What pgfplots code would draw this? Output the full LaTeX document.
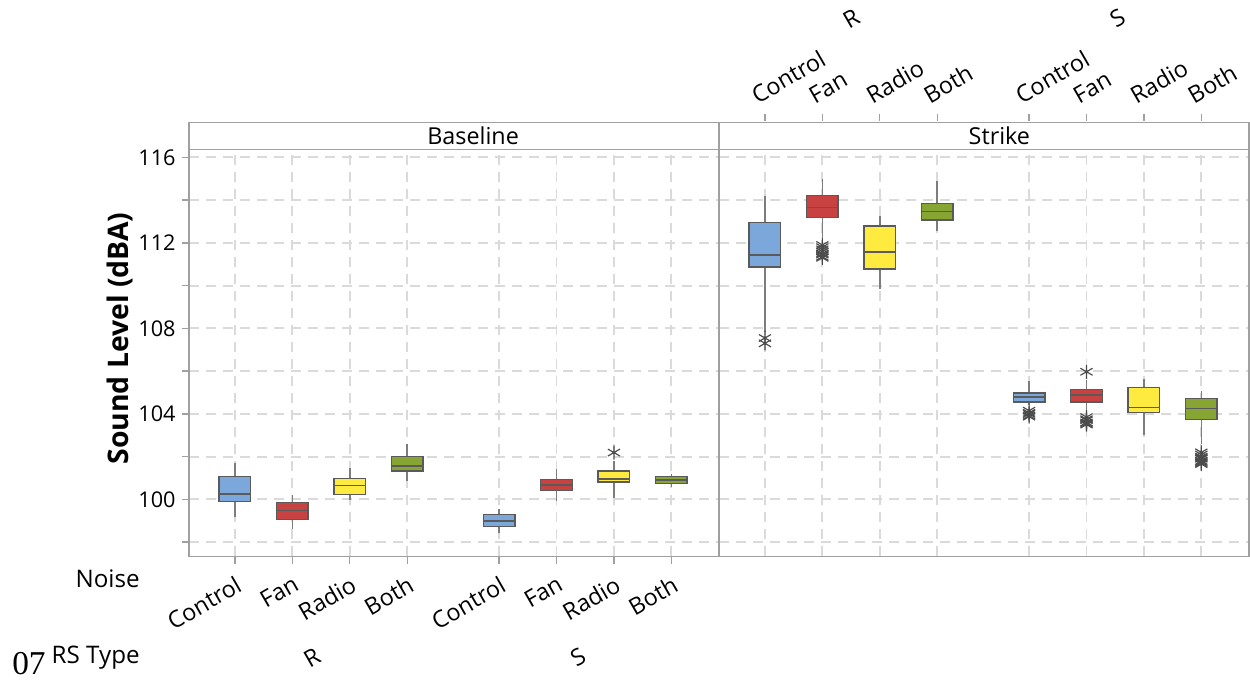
\documentclass[border=0pt]{standalone}
\usepackage{pgfplots}
\pgfplotsset{compat=1.18}
\usepackage{fontspec}
\setmainfont{Open Sans}
\newfontfamily\serifnum{Liberation Serif}
\definecolor{cblue}{RGB}{123,167,219}
\definecolor{cred}{RGB}{201,66,66}
\definecolor{cyellow}{RGB}{255,234,64}
\definecolor{cgreen}{RGB}{135,165,50}
\definecolor{edgec}{RGB}{90,90,90}
\definecolor{whiskc}{RGB}{125,125,125}
\definecolor{markc}{RGB}{75,75,75}
\definecolor{gridc}{RGB}{218,218,218}
\definecolor{framec}{RGB}{160,160,160}
\newcommand{\tf}{\fontsize{14}{16}\selectfont}
\newcommand{\yf}{\fontsize{13}{15}\selectfont}
\pgfplotsset{
  panel/.style={
    scale only axis, width=318pt, height=244.2pt,
    xmin=0.2, xmax=9.43, ymin=97.33, ymax=116.37,
    axis line style={draw=framec, line width=0.8pt},
    ytick={98,100,...,116},
    xtick={1,2,3,4,5.6,6.6,7.6,8.6},
    xticklabels={Control,Fan,Radio,Both,Control,Fan,Radio,Both},
    grid=major,
    major grid style={draw=gridc, line width=1.1pt, dash pattern=on 6pt off 4.2pt},
    tick align=outside,
    major tick length=4.5pt,
    tick style={draw=framec, line width=0.8pt},
    ticklabel style={text=black},
    xticklabel style={font=\tf},
    yticklabel style={font=\yf},
    /pgf/number format/assume math mode=true,
    clip=false,
  },
  wh/.style={draw=whiskc, line width=0.9pt, no marks},
  bx/.style={draw=edgec, line width=0.8pt, no marks},
  md/.style={draw=edgec, line width=1pt, no marks},
  ol/.style={only marks, mark=asterisk, mark size=4.2pt,
    mark options={draw=markc, line width=0.7pt}},
}
\begin{document}
\begin{tikzpicture}
\path (0,0) rectangle (750pt,408pt);
% ---------------- Baseline ----------------
\begin{axis}[panel, at={(113.4pt,74.4pt)}, anchor=south west,
  xtick pos=left, ytick pos=left,
  yticklabels={,100,,104,,108,,112,,116},
  xticklabel style={rotate=30, anchor=north east, yshift=-2pt}]
% R Control
\addplot[wh] coordinates {(1,99.17) (1,101.72)};
\addplot[bx, fill=cblue] coordinates {(0.725,99.89) (1.275,99.89) (1.275,101.06) (0.725,101.06)} --cycle;
\addplot[md] coordinates {(0.725,100.25) (1.275,100.25)};
% R Fan
\addplot[wh] coordinates {(2,98.63) (2,100.22)};
\addplot[bx, fill=cred] coordinates {(1.725,99.06) (2.275,99.06) (2.275,99.84) (1.725,99.84)} --cycle;
\addplot[md] coordinates {(1.725,99.48) (2.275,99.48)};
% R Radio
\addplot[wh] coordinates {(3,99.98) (3,101.46)};
\addplot[bx, fill=cyellow] coordinates {(2.725,100.24) (3.275,100.24) (3.275,100.98) (2.725,100.98)} --cycle;
\addplot[md] coordinates {(2.725,100.65) (3.275,100.65)};
% R Both
\addplot[wh] coordinates {(4,100.85) (4,102.57)};
\addplot[bx, fill=cgreen] coordinates {(3.725,101.32) (4.275,101.32) (4.275,102.02) (3.725,102.02)} --cycle;
\addplot[md] coordinates {(3.725,101.56) (4.275,101.56)};
% S Control
\addplot[wh] coordinates {(5.6,98.41) (5.6,99.53)};
\addplot[bx, fill=cblue] coordinates {(5.325,98.74) (5.875,98.74) (5.875,99.28) (5.325,99.28)} --cycle;
\addplot[md] coordinates {(5.325,98.99) (5.875,98.99)};
% S Fan
\addplot[wh] coordinates {(6.6,99.91) (6.6,101.40)};
\addplot[bx, fill=cred] coordinates {(6.325,100.41) (6.875,100.41) (6.875,100.93) (6.325,100.93)} --cycle;
\addplot[md] coordinates {(6.325,100.66) (6.875,100.66)};
% S Radio
\addplot[wh] coordinates {(7.6,100.06) (7.6,101.8)};
\addplot[bx, fill=cyellow] coordinates {(7.325,100.82) (7.875,100.82) (7.875,101.32) (7.325,101.32)} --cycle;
\addplot[md] coordinates {(7.325,100.96) (7.875,100.96)};
\addplot[ol] coordinates {(7.6,102.19)};
% S Both
\addplot[wh] coordinates {(8.6,100.58) (8.6,101.21)};
\addplot[bx, fill=cgreen] coordinates {(8.325,100.74) (8.875,100.74) (8.875,101.06) (8.325,101.06)} --cycle;
\addplot[md] coordinates {(8.325,100.90) (8.875,100.90)};
\draw[framec, line width=0.8pt, fill=white] (rel axis cs:0,1) rectangle (rel axis cs:1,1.0663);
\node[font=\tf] at (rel axis cs:0.536,1.033) {Baseline};
\node[font=\fontsize{17}{19}\selectfont\bfseries, rotate=90] at (rel axis cs:-0.130,0.5356) {Sound Level (dBA)};
\node[font=\fontsize{14.5}{16}\selectfont, anchor=east, inner sep=0pt] at (rel axis cs:-0.0925,-0.054) {Noise};
\node[font=\fontsize{14.5}{16}\selectfont, anchor=east, inner sep=0pt] at (rel axis cs:-0.0925,-0.248) {RS Type};
\node[font=\tf, rotate=30] at (rel axis cs:0.232,-0.248) {R};
\node[font=\tf, rotate=30] at (rel axis cs:0.734,-0.248) {S};
\node[font=\fontsize{20}{22}\selectfont\serifnum, anchor=base west, inner sep=0pt] at (rel axis cs:-0.334,-0.29) {07};
\end{axis}
% ---------------- Strike ----------------
\begin{axis}[panel, at={(431.4pt,74.4pt)}, anchor=south west,
  xtick pos=right, xticklabel pos=right, ytick pos=left,
  ytick style={draw=none},
  yticklabels={,,,,,,,,,},
  xtick style={yshift=16.8pt},
  xticklabel style={rotate=30, anchor=south west, yshift=18pt, xshift=4pt}]
% R Control
\addplot[wh] coordinates {(1,107.85) (1,114.18)};
\addplot[bx, fill=cblue] coordinates {(0.725,110.87) (1.275,110.87) (1.275,112.96) (0.725,112.96)} --cycle;
\addplot[md] coordinates {(0.725,111.44) (1.275,111.44)};
\addplot[ol] coordinates {(1,107.55) (1,107.3)};
% R Fan
\addplot[wh] coordinates {(2,112.1) (2,114.98)};
\addplot[bx, fill=cred] coordinates {(1.725,113.19) (2.275,113.19) (2.275,114.21) (1.725,114.21)} --cycle;
\addplot[md] coordinates {(1.725,113.65) (2.275,113.65)};
\addplot[ol] coordinates {(2,111.9) (2,111.8) (2,111.7) (2,111.6) (2,111.5) (2,111.45) (2,111.35) (2,111.3)};
% R Radio
\addplot[wh] coordinates {(3,109.82) (3,113.27)};
\addplot[bx, fill=cyellow] coordinates {(2.725,110.78) (3.275,110.78) (3.275,112.79) (2.725,112.79)} --cycle;
\addplot[md] coordinates {(2.725,111.57) (3.275,111.57)};
% R Both
\addplot[wh] coordinates {(4,112.56) (4,114.90)};
\addplot[bx, fill=cgreen] coordinates {(3.725,113.07) (4.275,113.07) (4.275,113.85) (3.725,113.85)} --cycle;
\addplot[md] coordinates {(3.725,113.47) (4.275,113.47)};
% S Control
\addplot[wh] coordinates {(5.6,104.4) (5.6,105.53)};
\addplot[bx, fill=cblue] coordinates {(5.325,104.55) (5.875,104.55) (5.875,104.97) (5.325,104.97)} --cycle;
\addplot[md] coordinates {(5.325,104.80) (5.875,104.80)};
\addplot[ol] coordinates {(5.6,104.15) (5.6,104.05) (5.6,104.0) (5.6,103.92) (5.6,103.87)};
% S Fan
\addplot[wh] coordinates {(6.6,104.2) (6.6,105.6)};
\addplot[bx, fill=cred] coordinates {(6.325,104.56) (6.875,104.56) (6.875,105.14) (6.325,105.14)} --cycle;
\addplot[md] coordinates {(6.325,104.88) (6.875,104.88)};
\addplot[ol] coordinates {(6.6,105.97) (6.6,103.85) (6.6,103.75) (6.6,103.7) (6.6,103.6) (6.6,103.55) (6.6,103.5)};
% S Radio
\addplot[wh] coordinates {(7.6,103.03) (7.6,105.63)};
\addplot[bx, fill=cyellow] coordinates {(7.325,104.06) (7.875,104.06) (7.875,105.23) (7.325,105.23)} --cycle;
\addplot[md] coordinates {(7.325,104.30) (7.875,104.30)};
% S Both
\addplot[wh] coordinates {(8.6,102.6) (8.6,105.06)};
\addplot[bx, fill=cgreen] coordinates {(8.325,103.75) (8.875,103.75) (8.875,104.72) (8.325,104.72)} --cycle;
\addplot[md] coordinates {(8.325,104.25) (8.875,104.25)};
\addplot[ol] coordinates {(8.6,102.2) (8.6,102.1) (8.6,102.0) (8.6,101.95) (8.6,101.9) (8.6,101.8) (8.6,101.75) (8.6,101.7) (8.6,101.65)};
\draw[framec, line width=0.8pt, fill=white] (rel axis cs:0,1) rectangle (rel axis cs:1,1.0663);
\node[font=\tf] at (rel axis cs:0.529,1.033) {Strike};
\node[font=\tf, rotate=30] at (rel axis cs:0.2495,1.322) {R};
\node[font=\tf, rotate=30] at (rel axis cs:0.752,1.322) {S};
\end{axis}
\end{tikzpicture}
\end{document}
